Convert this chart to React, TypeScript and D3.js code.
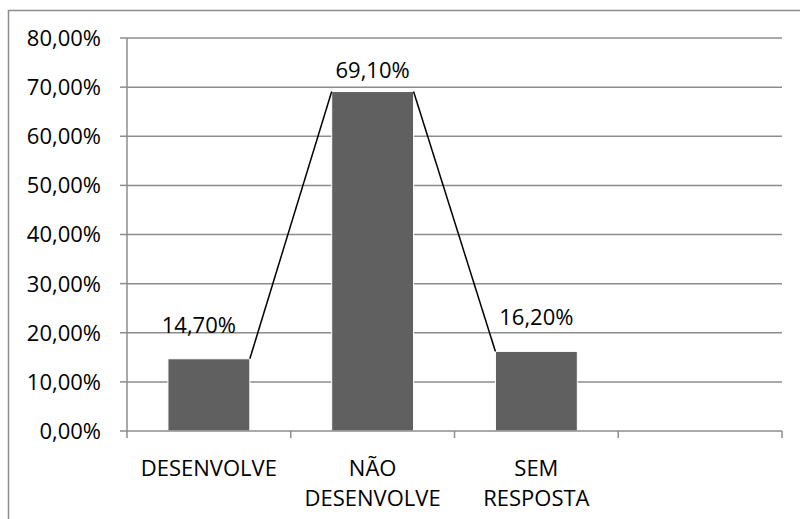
import { useMemo } from "react";
import * as d3 from "d3";

const categories: string[][] = [["DESENVOLVE"], ["NÃO", "DESENVOLVE"], ["SEM", "RESPOSTA"], [""]];
const values: (number | null)[] = [14.7, 69.1, 16.2, null];
const yTicks = [0, 10, 20, 30, 40, 50, 60, 70, 80];

const W = 800;
const H = 519;
const FONT = "'Open Sans', sans-serif";
const FS = 22;

export default function App() {
  const margin = { top: 38, right: 18, bottom: 88, left: 127 };

  const x = useMemo(
    () =>
      d3
        .scaleBand<number>()
        .domain(categories.map((_, i) => i))
        .range([margin.left, W - margin.right])
        .paddingInner(0.5)
        .paddingOuter(0.25),
    []
  );
  const y = useMemo(
    () => d3.scaleLinear().domain([0, 80]).range([H - margin.bottom, margin.top]),
    []
  );

  const step = x.step();
  const left = margin.left;
  const right = W - margin.right;
  const fmt = (v: number) => v.toFixed(2).replace(".", ",") + "%";

  // linhas de série: canto superior direito de uma barra até o superior esquerdo da próxima
  const bars = values
    .map((v, i) => ({ v, i }))
    .filter((d): d is { v: number; i: number } => d.v !== null);
  const seriesLines = bars.slice(0, -1).map((d, k) => {
    const n = bars[k + 1];
    return {
      x1: (x(d.i) ?? 0) + x.bandwidth(),
      y1: y(d.v),
      x2: x(n.i) ?? 0,
      y2: y(n.v),
    };
  });

  return (
    <svg
      width={W}
      height={H}
      style={{ position: "absolute", left: 0, top: 0, background: "#fff" }}
      fontFamily={FONT}
    >
      <rect x={8.5} y={10.5} width={W} height={H} fill="none" stroke="#8c8c8c" strokeWidth={1.5} />

      {/* grade */}
      {yTicks.map((t) => (
        <g key={t}>
          {t > 0 && (
            <line x1={left} x2={right} y1={y(t)} y2={y(t)} stroke="#8c8c8c" strokeWidth={1.5} />
          )}
          <line x1={left - 7} x2={left} y1={y(t)} y2={y(t)} stroke="#8c8c8c" strokeWidth={1.5} />
          <text x={left - 26} y={y(t)} dy="0.36em" textAnchor="end" fontSize={FS} fill="#000">
            {fmt(t)}
          </text>
        </g>
      ))}

      {/* barras */}
      {bars.map((d) => (
        <rect
          key={d.i}
          x={x(d.i)}
          y={y(d.v)}
          width={x.bandwidth()}
          height={y(0) - y(d.v)}
          fill="#606060"
          stroke="#fff"
          strokeWidth={1}
        />
      ))}

      {seriesLines.map((l, k) => (
        <line key={k} {...l} stroke="#000" strokeWidth={1.5} />
      ))}

      {/* eixos */}
      <line x1={left} x2={left} y1={y(80)} y2={y(0)} stroke="#8c8c8c" strokeWidth={1.5} />
      <line x1={left} x2={right} y1={y(0)} y2={y(0)} stroke="#8c8c8c" strokeWidth={1.5} />
      {d3.range(categories.length + 1).map((i) => (
        <line
          key={i}
          x1={left + i * step}
          x2={left + i * step}
          y1={y(0)}
          y2={y(0) + 7}
          stroke="#8c8c8c"
          strokeWidth={1.5}
        />
      ))}

      {/* rótulos de dados */}
      {bars.map((d) => (
        <text
          key={d.i}
          x={(x(d.i) ?? 0) + x.bandwidth() / 2 - (d.i === 0 ? 10 : 0)}
          y={y(d.v) - (d.v > 50 ? 14 : 26)}
          textAnchor="middle"
          fontSize={FS}
          fill="#000"
        >
          {fmt(d.v)}
        </text>
      ))}

      {/* categorias */}
      {categories.map((lines, i) => (
        <text key={i} x={(x(i) ?? 0) + x.bandwidth() / 2} y={y(0) + 45} textAnchor="middle" fontSize={FS} fill="#000">
          {lines.map((s, j) => (
            <tspan key={j} x={(x(i) ?? 0) + x.bandwidth() / 2} dy={j === 0 ? 0 : 30}>
              {s}
            </tspan>
          ))}
        </text>
      ))}
    </svg>
  );
}
